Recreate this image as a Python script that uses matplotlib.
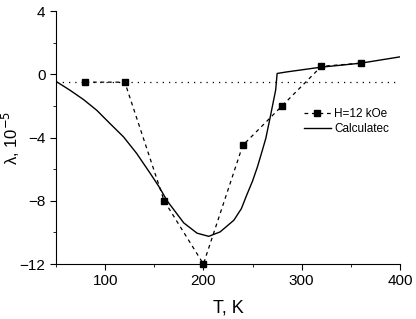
import numpy as np
import matplotlib.pyplot as plt

plt.rcParams['font.family'] = ['Liberation Sans', 'DejaVu Sans']

# measured points, H = 12 kOe
T_exp = np.array([80, 120, 160, 200, 240, 280, 320, 360])
lam_exp = np.array([-0.5, -0.5, -8.0, -12.0, -4.5, -2.0, 0.5, 0.7])

# calculated curve
T_calc = np.array([50, 64, 78, 91.5, 105, 118.7, 132, 146, 155, 163, 180, 193.5,
                   205.4, 217, 231, 238.6, 244, 250, 255, 260, 263.5, 268, 273.5,
                   275, 285, 320, 360, 400])
lam_calc = np.array([-0.45, -1.0, -1.6, -2.28, -3.12, -3.96, -5.0, -6.28, -7.13,
                     -8.0, -9.4, -10.05, -10.25, -9.97, -9.23, -8.5, -7.65, -6.75,
                     -5.85, -4.8, -4.05, -2.7, -1.0, 0.05, 0.15, 0.45, 0.7, 1.1])

fig = plt.figure(figsize=(4.16, 3.19), dpi=100)
ax = fig.add_axes([0.1346, 0.1724, 0.8269, 0.7931])

ax.axhline(-0.5, color='black', lw=0.9, ls=(0, (1, 4)))
ax.plot(T_exp, lam_exp, color='black', lw=0.9, ls=(0, (3, 3)), marker='s',
        ms=5, label='H=12 kOe', clip_on=False)
ax.plot(T_calc, lam_calc, color='black', lw=1.0, label='Calculatec')

ax.set_xlim(50, 400)
ax.set_ylim(-12, 4)
ax.set_xticks([100, 200, 300, 400])
ax.set_xticks([50, 150, 250, 350], minor=True)
ax.set_yticks([-12, -8, -4, 0, 4])
ax.set_yticks([-10, -6, -2, 2], minor=True)
ax.spines['top'].set_visible(False)
ax.spines['right'].set_visible(False)
ax.tick_params(which='major', direction='out', length=4, labelsize=11)
ax.tick_params(which='minor', direction='out', length=2)
ax.set_xlabel('T, K', fontsize=13, labelpad=8)
ax.set_ylabel('λ, 10$^{-5}$', fontsize=12)
ax.yaxis.set_label_coords(-0.1, 0.5)

ax.legend(loc='upper right', bbox_to_anchor=(1.0, 0.66), frameon=False,
          fontsize=8.5, handlelength=2.3, handletextpad=0.3, labelspacing=0.3)

fig.savefig('out.png', dpi=100)
